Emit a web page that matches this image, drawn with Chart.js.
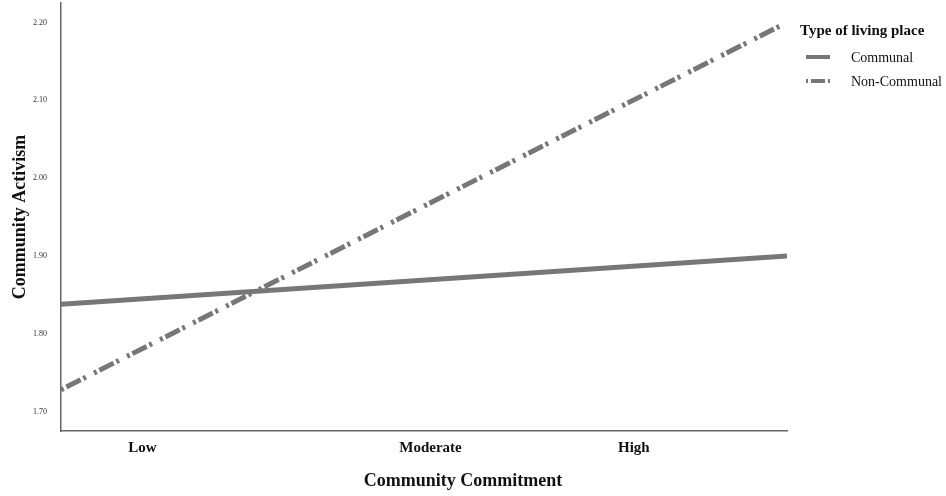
<!DOCTYPE html>
<html>
<head>
<meta charset="utf-8">
<script src="https://cdn.jsdelivr.net/npm/chart.js@4.4.1/dist/chart.umd.min.js"></script>
<style>
  html, body { margin: 0; padding: 0; background: #fff; }
  #wrap { width: 946px; height: 496px; position: relative; }
</style>
</head>
<body>
<div id="wrap"><canvas id="interactionChart"></canvas></div>
<script>
// ── Data ─────────────────────────────────────────────────────
// Community Commitment runs 0..100 along the X axis; the plot
// lines are simple slopes from the left edge to the right edge
const commitmentX      = [0, 100];
const communalY        = [1.838, 1.900];
const nonCommunalY     = [1.728, 2.200];
const seriesLabels     = ['Communal', 'Non-Communal'];

// Tick labels for the X axis (not evenly spaced in the original)
const xTickValues      = [11.2, 50.9, 78.9];
const xTickLabels      = ['Low', 'Moderate', 'High'];
const yTickValues      = [1.70, 1.80, 1.90, 2.00, 2.10, 2.20];

const SERIF  = '"Liberation Serif", "Times New Roman", serif';
const GREY   = '#777777';
const AXIS   = '#666666';

// Kill the automatic label overhang padding so the plot area
// lands exactly where the layout padding says
const noOverhang = s => {
    s.paddingTop = 0; s.paddingBottom = 0;
    s.paddingLeft = 0; s.paddingRight = 0;
};

// ── Legend + X title plugin ──────────────────────────────────
// Draws the "Type of living place" legend to the right of the
// plot and the X axis title (which sits off-centre in the source)
const extras = {
    id: 'extras',
    afterDraw(chart) {
        const ctx = chart.ctx;
        ctx.save();
        ctx.fillStyle = '#111';
        ctx.textBaseline = 'middle';

        // X axis title
        ctx.textAlign = 'center';
        ctx.font = 'bold 18px ' + SERIF;
        ctx.fillText('Community Commitment', 463, 481);

        // Legend title
        ctx.textAlign = 'left';
        ctx.font = 'bold 15px ' + SERIF;
        ctx.fillText('Type of living place', 800, 31);

        // Legend items
        const rows = [57, 81];
        const dashes = [[], [2, 3, 14, 3, 3]];
        chart.data.datasets.forEach((ds, i) => {
            ctx.strokeStyle = ds.borderColor;
            ctx.lineWidth = 4;
            ctx.setLineDash(dashes[i]);
            ctx.beginPath();
            ctx.moveTo(806, rows[i]);
            ctx.lineTo(830, rows[i]);
            ctx.stroke();
            ctx.setLineDash([]);
            ctx.font = '14px ' + SERIF;
            ctx.fillStyle = '#111';
            ctx.fillText(ds.label, 851, rows[i] + 1);
        });
        ctx.restore();
    }
};

new Chart(document.getElementById('interactionChart'), {
    type: 'line',
    data: {
        datasets: [{
            label:       seriesLabels[0],
            data:        commitmentX.map((x, i) => ({ x, y: communalY[i] })),
            borderColor: GREY,
            borderWidth: 5,
            pointRadius: 0
        }, {
            label:       seriesLabels[1],
            data:        commitmentX.map((x, i) => ({ x, y: nonCommunalY[i] })),
            borderColor: GREY,
            borderWidth: 5,
            borderDash:  [3, 3, 16, 3, 3, 9],   // dot-dash-dot groups
            pointRadius: 0
        }]
    },
    options: {
        responsive: true,
        maintainAspectRatio: false,
        animation: false,
        layout: { padding: { left: 0, right: 159, top: 3, bottom: 0 } },
        plugins: {
            legend:  { display: false },
            tooltip: { enabled: false }
        },
        scales: {
            x: {
                type: 'linear',
                min: commitmentX[0],
                max: commitmentX[1],
                afterBuildTicks: s => { s.ticks = xTickValues.map(v => ({ value: v })); },
                afterFit: s => { s.height = 65; noOverhang(s); },
                grid:   { display: false, drawTicks: false },
                border: { display: true, color: AXIS, width: 1.5 },
                ticks: {
                    padding: 8,
                    color: '#111',
                    font: { family: SERIF, size: 15, weight: 'bold' },
                    callback: (v) => xTickLabels[xTickValues.indexOf(v)] || ''
                }
            },
            y: {
                min: 1.675,
                max: 2.225,
                afterBuildTicks: s => { s.ticks = yTickValues.map(v => ({ value: v })); },
                afterFit: s => { s.width = 61; noOverhang(s); },
                grid:   { display: false, drawTicks: false },
                border: { display: true, color: AXIS, width: 1.5 },
                title: {
                    display: true,
                    text: 'Community Activism',
                    color: '#111',
                    padding: { top: 10, bottom: 0 },
                    font: { family: SERIF, size: 18, weight: 'bold' }
                },
                ticks: {
                    padding: 14,
                    color: '#333',
                    font: { family: SERIF, size: 8 },
                    callback: v => v.toFixed(2)
                }
            }
        }
    },
    plugins: [extras]
});
</script>
</body>
</html>
